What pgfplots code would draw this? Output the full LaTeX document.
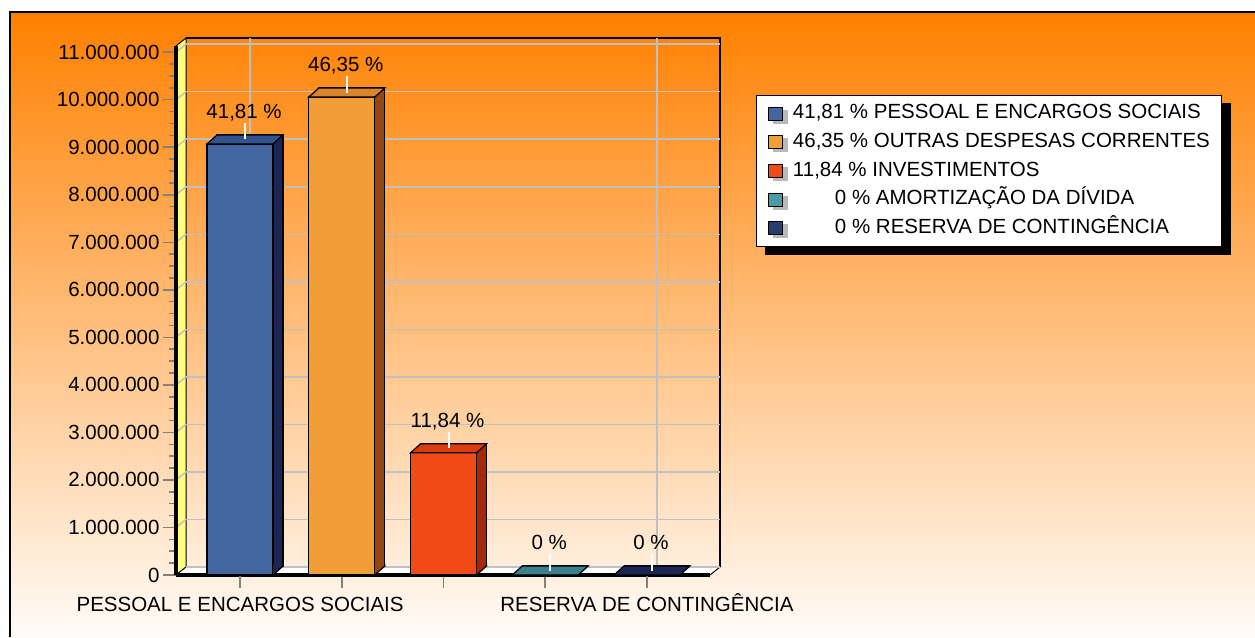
\documentclass[border=0pt]{standalone}
\usepackage{pgfplots}
\pgfplotsset{compat=1.18}
\usepackage{pgfplotstable}
\usepackage{fontspec}
\setmainfont{Liberation Sans}

\definecolor{bgtop}{RGB}{255,128,0}
\definecolor{bgbot}{RGB}{255,252,248}
\definecolor{wallyellow}{RGB}{255,255,128}
\definecolor{gridgray}{RGB}{192,192,192}
\definecolor{tickgray}{RGB}{128,128,128}
\definecolor{blueF}{RGB}{68,102,160}
\definecolor{blueS}{RGB}{28,38,85}
\definecolor{blueT}{RGB}{52,82,140}
\definecolor{orangeF}{RGB}{242,158,56}
\definecolor{orangeS}{RGB}{150,70,20}
\definecolor{orangeT}{RGB}{218,132,45}
\definecolor{redF}{RGB}{240,75,22}
\definecolor{redS}{RGB}{165,40,10}
\definecolor{redT}{RGB}{218,60,18}
\definecolor{tealF}{RGB}{74,154,168}
\definecolor{tealS}{RGB}{40,90,100}
\definecolor{tealT}{RGB}{58,128,140}
\definecolor{navyF}{RGB}{40,60,110}
\definecolor{navyS}{RGB}{20,25,60}
\definecolor{navyT}{RGB}{28,38,85}

\newcommand{\lbl}{\fontsize{20.5pt}{24pt}\selectfont}

\pgfplotstableread{
x v pct
0 9070000 41.81
1 10055000 46.35
2 2570000 11.84
3 0 0
4 0 0
}\data

\pgfdeclareplotmark{topface}{%
  \pgfpathmoveto{\pgfqpoint{-33pt}{0pt}}%
  \pgfpathlineto{\pgfqpoint{33pt}{0pt}}%
  \pgfpathlineto{\pgfqpoint{43pt}{9pt}}%
  \pgfpathlineto{\pgfqpoint{-23pt}{9pt}}%
  \pgfpathclose
  \pgfusepathqfillstroke
  \begin{pgfscope}%
  \pgfsetstrokecolor{white}\pgfsetlinewidth{2pt}%
  \pgfpathmoveto{\pgfqpoint{5pt}{4.5pt}}%
  \pgfpathlineto{\pgfqpoint{5pt}{21pt}}%
  \pgfusepathqstroke
  \end{pgfscope}%
}
\pgfdeclareplotmark{sidetri}{%
  \pgfpathmoveto{\pgfqpoint{33pt}{0pt}}%
  \pgfpathlineto{\pgfqpoint{43.5pt}{9pt}}%
  \pgfpathlineto{\pgfqpoint{43.5pt}{10.5pt}}%
  \pgfpathlineto{\pgfqpoint{33pt}{10.5pt}}%
  \pgfpathclose
  \pgfusepathqfill
  \pgfpathmoveto{\pgfqpoint{33pt}{0pt}}%
  \pgfpathlineto{\pgfqpoint{43pt}{9pt}}%
  \pgfpathlineto{\pgfqpoint{43pt}{11pt}}%
  \pgfusepathqstroke
}

% #1 index, #2 front, #3 side, #4 top
\newcommand{\barthreed}[4]{%
  \addplot[forget plot, ybar, bar width=66pt, bar shift=0pt, fill=#3, draw=black,
    line width=1.2pt, xshift=10pt, yshift=9pt, restrict x to domain=#1:#1]
    table[x=x,y=v]{\data};
  \addplot[forget plot, only marks, mark=sidetri, mark options={fill=#3, draw=black, line width=1.2pt},
    restrict x to domain=#1:#1, y filter/.expression={y>0 ? 0 : nan}]
    table[x=x,y=v]{\data};
  \addplot[forget plot, ybar, bar width=66pt, bar shift=0pt, fill=#2, draw=black,
    line width=1.2pt, restrict x to domain=#1:#1]
    table[x=x,y=v]{\data};
  \addplot[forget plot, only marks, mark=topface,
    mark options={fill=#4, draw=black, line width=1.2pt},
    restrict x to domain=#1:#1,
    point meta=\thisrow{pct},
    nodes near coords={\pgfmathprintnumber[use comma,fixed,precision=2,assume math mode=true]{\pgfplotspointmeta}\ \%},
    nodes near coords style={anchor=base, xshift=4pt, yshift=25.5pt, font=\lbl, text=black, inner sep=0pt}]
    table[x=x,y=v]{\data};
}

\newcommand{\legsq}[1]{\addlegendimage{legend image code/.code={%
  \fill[gray!55] (4.5pt,-9.5pt) rectangle (18.5pt,3.5pt);
  \filldraw[fill=#1, draw=black, line width=1pt] (0pt,-6.5pt) rectangle (14pt,6.5pt);}}}

\begin{document}
\begin{tikzpicture}
\useasboundingbox (0,0) rectangle (1255pt,637pt);
\fill[white] (0,0) rectangle (1255pt,637pt);
\shade[top color=bgtop, bottom color=bgbot] (10pt,0pt) rectangle (1255pt,625pt);
\draw[black, line width=1.5pt] (10pt,0pt) -- (10pt,625pt) -- (1255pt,625pt);
% back wall outline
\draw[black, line width=1.5pt] (186pt,599pt) -- (720pt,599pt) -- (720pt,70pt);
% left wall
\filldraw[fill=wallyellow, draw=black, line width=1pt] (176pt,62pt) -- (186pt,70pt) -- (186pt,599pt) -- (176pt,591pt) -- cycle;
\foreach \k in {0,...,11} \draw[gridgray, line width=1.5pt] (176pt,{(62+47.53*\k)*1pt}) -- ++(10pt,8pt);
% floor
\filldraw[fill=white, draw=black, line width=1pt] (176pt,62pt) -- (710pt,62pt) -- (720pt,70pt) -- (186pt,70pt) -- cycle;

\begin{axis}[
  at={(176pt,62pt)}, anchor=south west,
  scale only axis, width=534pt, height=529pt,
  xmin=-0.63, xmax=4.62, ymin=0, ymax=11130000,
  clip=false,
  axis x line*=bottom, axis y line*=left,
  axis line style={line width=3.5pt, black, -},
  xtick={0,1,2,3,4},
  xticklabels={PESSOAL E ENCARGOS SOCIAIS,,,,RESERVA DE CONTINGÊNCIA},
  extra x ticks={0,4}, extra x tick labels={}, extra x tick style={grid=major},
  ytick distance=1000000,
  minor y tick num=3,
  ymajorgrids,
  grid style={line width=1.5pt, color=gridgray, xshift=10pt, yshift=8pt},
  tick align=outside,
  major tick length=13pt, minor tick length=7pt,
  tick style={line width=1.5pt, color=tickgray},
  scaled y ticks=false,
  tick label style={font=\lbl},
  yticklabel style={/pgf/number format/.cd, fixed, precision=0, 1000 sep={.}, assume math mode=true},
  xticklabel style={inner sep=0pt, text height=15pt, text depth=4pt, yshift=-8pt},
  legend style={name=leg, at={(axis description cs:1.0861,0.9074)}, anchor=north west,
    draw=black, line width=1pt, fill=white, inner xsep=12pt, inner ysep=8.5pt,
    row sep=9pt, column sep=5pt, font=\lbl,
    nodes={inner sep=0pt, text height=15pt, text depth=4.3pt}},
  legend cell align=left,
]
\barthreed{0}{blueF}{blueS}{blueT}
\barthreed{1}{orangeF}{orangeS}{orangeT}
\barthreed{2}{redF}{redS}{redT}
\barthreed{3}{tealF}{tealS}{tealT}
\barthreed{4}{navyF}{navyS}{navyT}

\legsq{blueF}
\addlegendentry{41,81 \% PESSOAL E ENCARGOS SOCIAIS}
\legsq{orangeF}
\addlegendentry{46,35 \% OUTRAS DESPESAS CORRENTES}
\legsq{redF}
\addlegendentry{11,84 \% INVESTIMENTOS}
\legsq{tealF}
\addlegendentry{\hspace*{42pt}0 \% AMORTIZAÇÃO DA DÍVIDA}
\legsq{navyF}
\addlegendentry{\hspace*{42pt}0 \% RESERVA DE CONTINGÊNCIA}
\end{axis}
% legend shadow (visible strips only)
\fill[black] ([yshift=-8pt]leg.north east) rectangle ([xshift=9pt,yshift=-8pt]leg.south east);
\fill[black] ([xshift=9pt]leg.south west) rectangle ([xshift=9pt,yshift=-8pt]leg.south east);
\end{tikzpicture}
\end{document}
